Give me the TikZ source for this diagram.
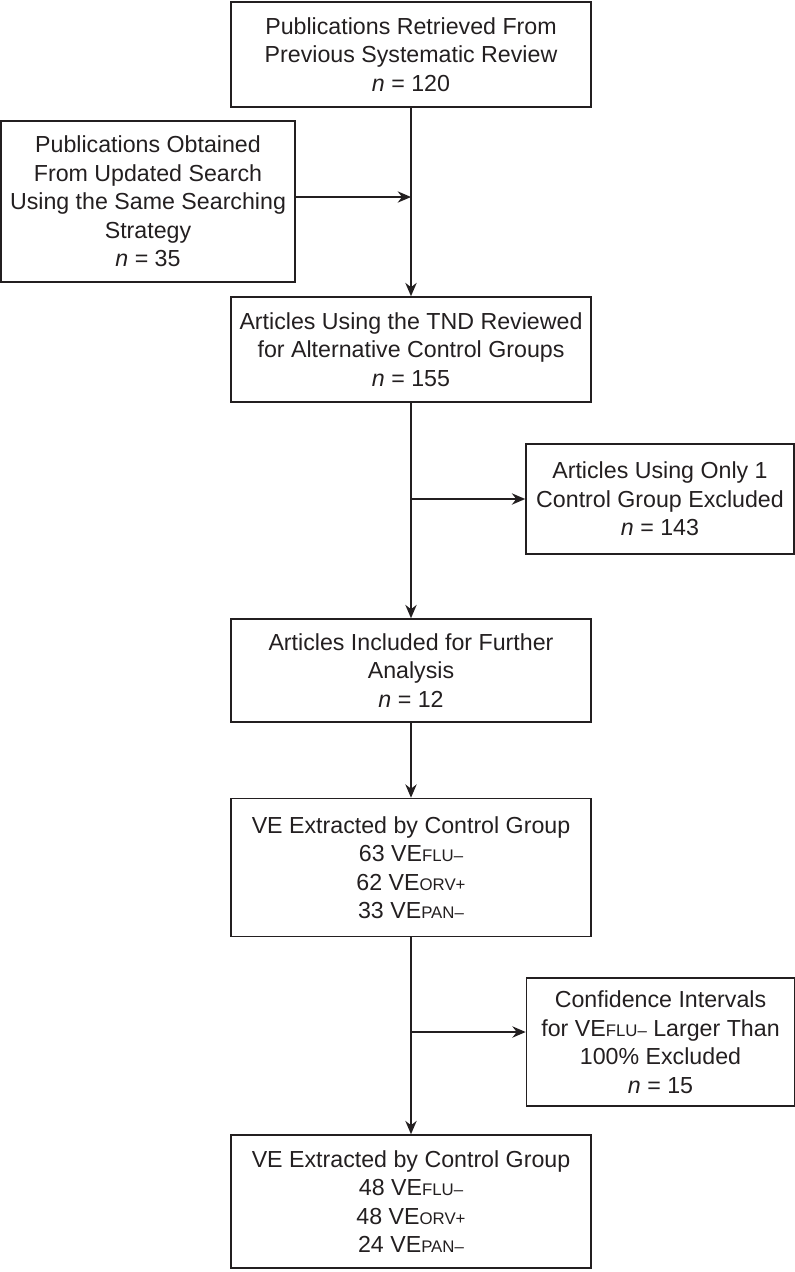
\documentclass[tikz,border=0pt]{standalone}
\usepackage{fontspec}
\setmainfont{Liberation Sans}
\usepackage{xcolor}
\usetikzlibrary{calc,arrows.meta}
\definecolor{ink}{HTML}{231F20}
\newcommand{\grp}[1]{{\fontsize{12.6}{14}\selectfont #1}}
\tikzset{
  box/.style={draw=ink, line width=1.2pt, rectangle, align=center, inner sep=0pt,
    font=\fontsize{17.4}{21.4}\selectfont, text=ink},
  wide/.style={box, minimum width=270pt},
  side/.style={box, minimum width=201pt},
  flow/.style={draw=ink, line width=1.2pt, -{Stealth[length=10pt,width=8.5pt]}},
}
\begin{document}
\begin{tikzpicture}[x=0.75pt,y=-0.75pt]
  \useasboundingbox (0,0) rectangle (795,1272);

  % main column
  \node[wide, minimum height=78.75pt] (pub) at (411,54.5)
    {Publications Retrieved From\\Previous Systematic Review\\\textit{n} = 120};
  \node[box, minimum width=220.5pt, minimum height=120.75pt] (upd) at (148,201.5)
    {Publications Obtained\\From Updated Search\\Using the Same Searching\\Strategy\\\textit{n} = 35};
  \node[wide, minimum height=78.75pt] (tnd) at (411,349.5)
    {Articles Using the TND Reviewed\\for Alternative Control Groups\\\textit{n} = 155};
  \node[side, minimum height=82.5pt] (one) at (660,499)
    {Articles Using Only 1\\Control Group Excluded\\\textit{n} = 143};
  \node[wide, minimum height=77.25pt] (inc) at (411,670.5)
    {Articles Included for Further\\Analysis\\\textit{n} = 12};
  \node[wide, minimum height=103.5pt] (ve1) at (411,867.5)
    {VE Extracted by Control Group\\63 VE\grp{FLU–}\\62 VE\grp{ORV+}\\33 VE\grp{PAN–}};
  \node[side, minimum height=96pt] (ci) at (660.5,1042)
    {Confidence Intervals\\for VE\grp{FLU–} Larger Than\\100\% Excluded\\\textit{n} = 15};
  \node[wide, minimum height=99.75pt] (ve2) at (411,1201.5)
    {VE Extracted by Control Group\\48 VE\grp{FLU–}\\48 VE\grp{ORV+}\\24 VE\grp{PAN–}};

  % connectors
  \draw[flow] (pub.south) -- (tnd.north);
  \draw[flow] ($(upd.east)+(0,-4.5)$) -- ($(upd.east -| pub.south)+(0,-4.5)$);
  \draw[flow] (tnd.south) -- (inc.north);
  \draw[flow] (one.west -| tnd.south) -- (one.west);
  \draw[flow] (inc.south) -- (ve1.north);
  \draw[flow] (ve1.south) -- (ve2.north);
  \draw[flow] ($(ci.west -| ve1.south)+(0,-10)$) -- ($(ci.west)+(0,-10)$);
\end{tikzpicture}
\end{document}
